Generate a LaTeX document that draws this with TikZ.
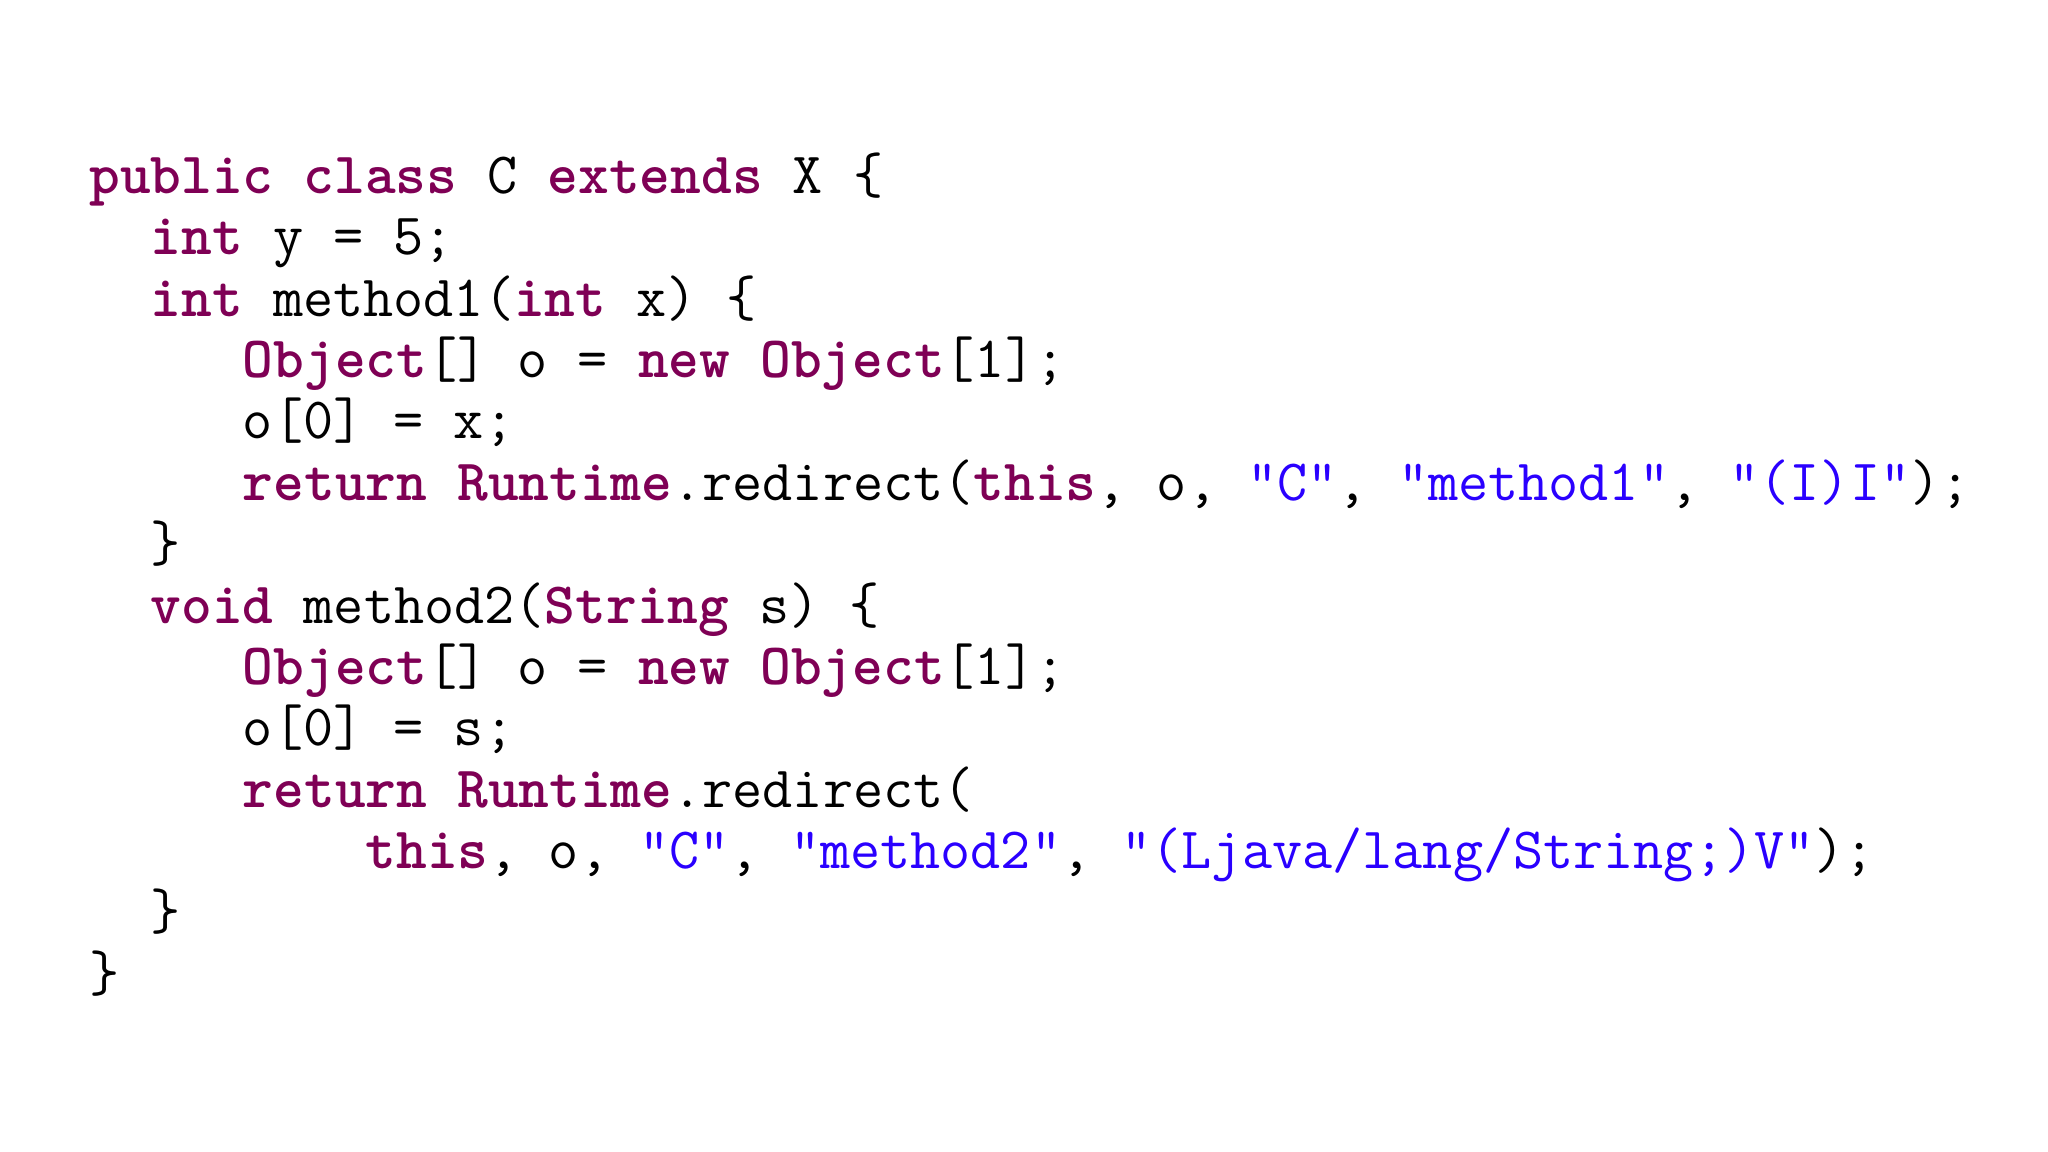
\documentclass[tikz,border=0pt]{standalone}
\usepackage{fontspec}
\definecolor{kw}{HTML}{7F0055}
\definecolor{st}{HTML}{2A00FF}
\newcommand{\kw}[1]{\textbf{\color{kw}#1}}
\newcommand{\st}[1]{{\color{st}#1}}
\begin{document}
\begin{tikzpicture}[x=1pt,y=1pt,
  codeline/.style={anchor=base west,inner sep=0pt,font=\ttfamily\fontsize{22.4}{26}\selectfont}]
\useasboundingbox (0,0) rectangle (784,-441);
\fill[white] (0,0) rectangle (784,-441);
\def\bx{34}
\def\ch{11.76}
\node[codeline] (l1) at (\bx,-74) {\kw{public} \kw{class} C \kw{extends} X \{};
\node[codeline] (l2) at (\bx+2*\ch,-97.5) {\kw{int} y = 5;};
\node[codeline] (l3) at (\bx+2*\ch,-121) {\kw{int} method1(\kw{int} x) \{};
\node[codeline] (l4) at (\bx+5*\ch,-144.5) {\kw{Object}[] o = \kw{new} \kw{Object}[1];};
\node[codeline] (l5) at (\bx+5*\ch,-168) {o[0] = x;};
\node[codeline] (l6) at (\bx+5*\ch,-191.5) {\kw{return} \kw{Runtime}.redirect(\kw{this}, o, \st{"C"}, \st{"method1"}, \st{"(I)I"});};
\node[codeline] (l7) at (\bx+2*\ch,-215) {\}};
\node[codeline] (l8) at (\bx+2*\ch,-238.5) {\kw{void} method2(\kw{String} s) \{};
\node[codeline] (l9) at (\bx+5*\ch,-262) {\kw{Object}[] o = \kw{new} \kw{Object}[1];};
\node[codeline] (l10) at (\bx+5*\ch,-285.5) {o[0] = s;};
\node[codeline] (l11) at (\bx+5*\ch,-309) {\kw{return} \kw{Runtime}.redirect(};
\node[codeline] (l12) at (\bx+9*\ch,-332.5) {\kw{this}, o, \st{"C"}, \st{"method2"}, \st{"(Ljava/lang/String;)V"});};
\node[codeline] (l13) at (\bx+2*\ch,-356) {\}};
\node[codeline] (l14) at (\bx,-379.5) {\}};
\end{tikzpicture}
\end{document}
